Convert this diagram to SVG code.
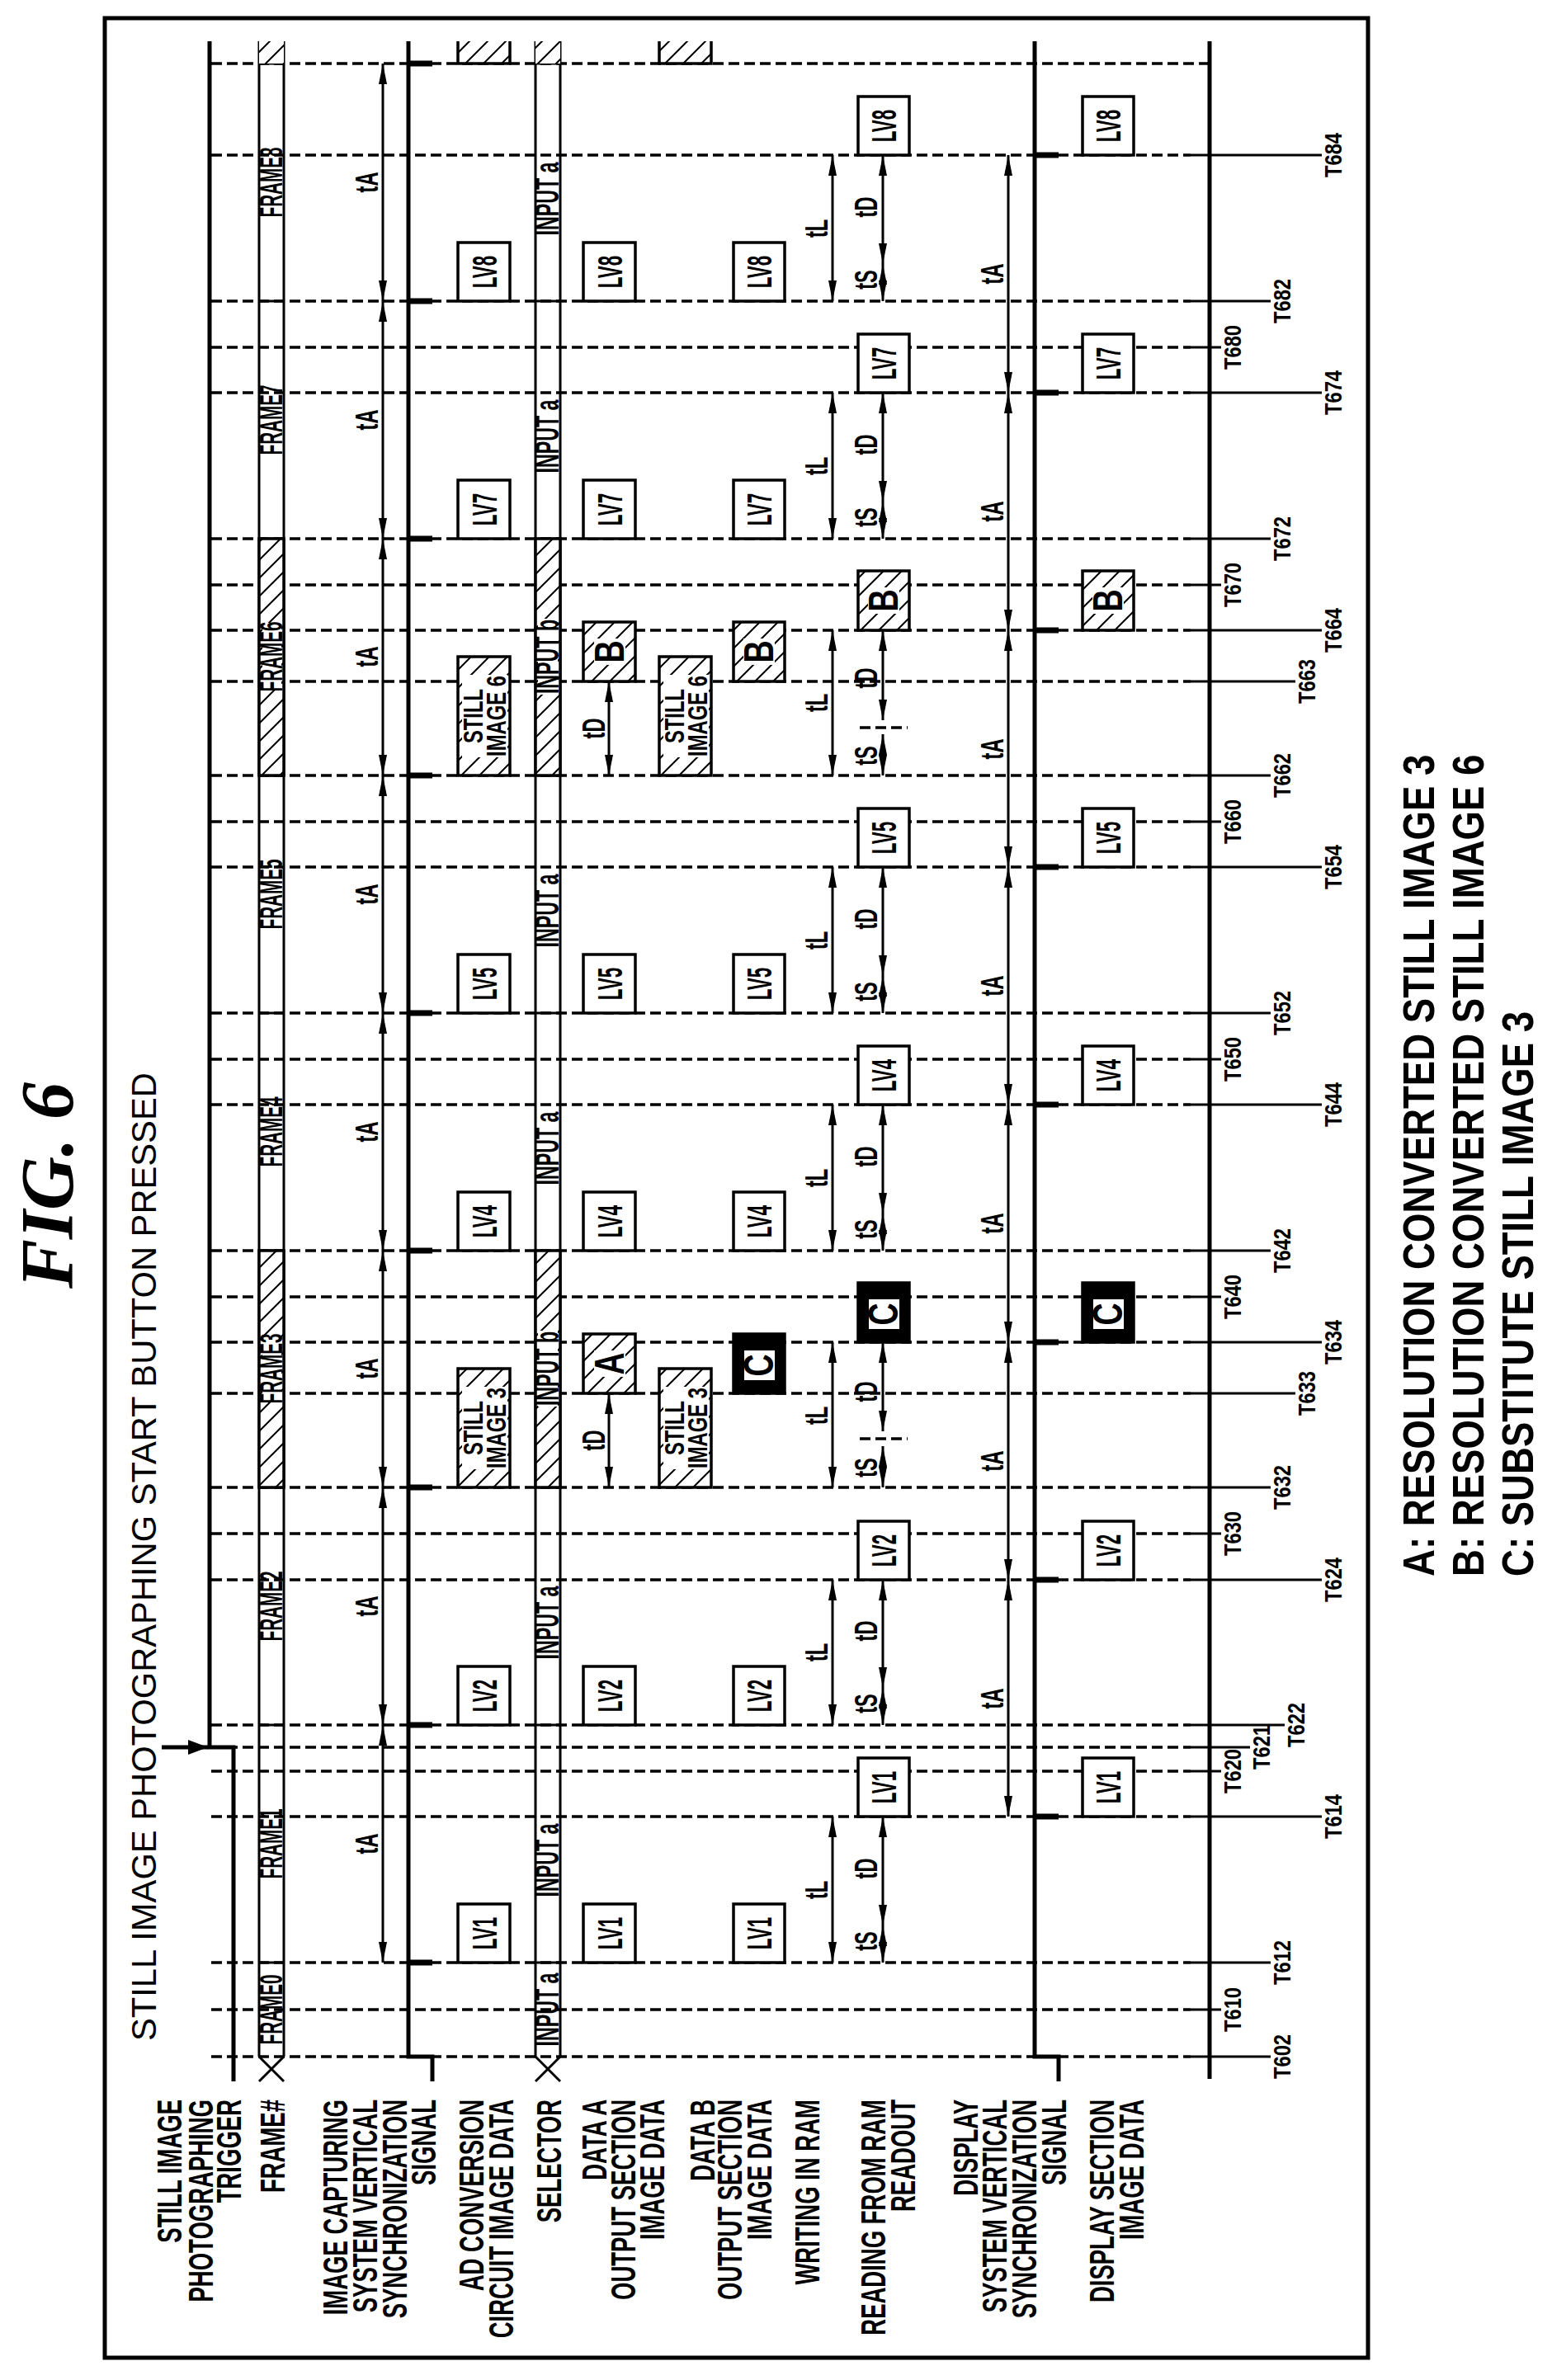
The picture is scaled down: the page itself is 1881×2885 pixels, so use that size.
<svg xmlns="http://www.w3.org/2000/svg" width="1881" height="2885" viewBox="0 0 1881 2885">
<style>
text{font-family:"Liberation Sans",Arial,sans-serif;fill:#000}
.lb{font-size:43px;font-weight:bold;text-anchor:end}
.fr{font-size:39px;font-weight:bold;text-anchor:middle}
.ip{font-size:40px;font-weight:bold;text-anchor:middle}
.tm{font-size:38px;font-weight:bold;text-anchor:middle}
.lv{font-size:43px;font-weight:bold;text-anchor:middle}
.st{font-size:34px;font-weight:bold;text-anchor:middle}
.big{font-size:50px;font-weight:bold;text-anchor:middle}
.tl{font-size:29px;font-weight:bold;text-anchor:middle}
.lg{font-size:53px;font-weight:bold;text-anchor:start}
.thick{stroke:#000;stroke-width:5;fill:none}
.thin{stroke:#000;stroke-width:3;fill:none}
.dash{stroke:#000;stroke-width:3.5;stroke-dasharray:13 6;fill:none}
.pulse{stroke:#000;stroke-width:7;fill:none}
.arr{stroke:#000;stroke-width:3;fill:none;marker-start:url(#ah);marker-end:url(#ah)}
.box{fill:#fff;stroke:#000;stroke-width:3.5}
.hbox{fill:url(#hatch);stroke:#000;stroke-width:3.5}
.blk{fill:#000;stroke:#000;stroke-width:3.5}
</style>
<defs>
<marker id="ah" markerUnits="userSpaceOnUse" viewBox="0 0 25 10" refX="25" refY="5" markerWidth="25" markerHeight="10" orient="auto-start-reverse"><path d="M0,0 L25,5 L0,10 z" fill="#000"/></marker>
<marker id="ah2" markerUnits="userSpaceOnUse" viewBox="0 0 24 18" refX="24" refY="9" markerWidth="24" markerHeight="18" orient="auto"><path d="M0,0 L24,9 L0,18 z" fill="#000"/></marker>
<pattern id="hatch" patternUnits="userSpaceOnUse" width="22" height="22"><rect width="22" height="22" fill="#fff"/><path d="M-5,-5 L27,27 M-5,17 L5,27 M17,-5 L27,5" stroke="#000" stroke-width="2"/></pattern>
</defs>
<rect id="border" x="127" y="22" width="1531" height="2836" fill="none" stroke="#000" stroke-width="5"/>
<g transform="matrix(0 -1 1 0 0 2885)">
<text id="title" x="1448" y="88" style="font-family:'Liberation Serif','Times New Roman',serif;font-size:90px;font-weight:bold;font-style:italic;text-anchor:middle">FIG. 6</text>
<text id="trig-title" transform="translate(411 189) scale(0.97 1)" style="font-size:43px">STILL IMAGE PHOTOGRAPHING START BUTTON PRESSED</text>
<g id="row-labels">
<text class="lb" transform="translate(340 220) scale(0.64 1)">STILL IMAGE</text>
<text class="lb" transform="translate(340 258) scale(0.64 1)">PHOTOGRAPHING</text>
<text class="lb" transform="translate(340 292) scale(0.64 1)">TRIGGER</text>
<text class="lb" transform="translate(340 345) scale(0.64 1)">FRAME#</text>
<text class="lb" transform="translate(340 421) scale(0.64 1)">IMAGE CAPTURING</text>
<text class="lb" transform="translate(340 457) scale(0.64 1)">SYSTEM VERTICAL</text>
<text class="lb" transform="translate(340 493) scale(0.64 1)">SYNCHRONIZATION</text>
<text class="lb" transform="translate(340 528) scale(0.64 1)">SIGNAL</text>
<text class="lb" transform="translate(340 586) scale(0.64 1)">AD CONVERSION</text>
<text class="lb" transform="translate(340 622) scale(0.64 1)">CIRCUIT IMAGE DATA</text>
<text class="lb" transform="translate(340 680) scale(0.64 1)">SELECTOR</text>
<text class="lb" transform="translate(340 735) scale(0.64 1)">DATA A</text>
<text class="lb" transform="translate(340 770) scale(0.64 1)">OUTPUT SECTION</text>
<text class="lb" transform="translate(340 805) scale(0.64 1)">IMAGE DATA</text>
<text class="lb" transform="translate(340 866) scale(0.64 1)">DATA B</text>
<text class="lb" transform="translate(340 899) scale(0.64 1)">OUTPUT SECTION</text>
<text class="lb" transform="translate(340 935) scale(0.64 1)">IMAGE DATA</text>
<text class="lb" transform="translate(340 993) scale(0.64 1)">WRITING IN RAM</text>
<text class="lb" transform="translate(340 1073) scale(0.64 1)">READING FROM RAM</text>
<text class="lb" transform="translate(340 1109) scale(0.64 1)">READOUT</text>
<text class="lb" transform="translate(340 1185) scale(0.64 1)">DISPLAY</text>
<text class="lb" transform="translate(340 1220) scale(0.64 1)">SYSTEM VERTICAL</text>
<text class="lb" transform="translate(340 1256) scale(0.64 1)">SYNCHRONIZATION</text>
<text class="lb" transform="translate(340 1292) scale(0.64 1)">SIGNAL</text>
<text class="lb" transform="translate(340 1350) scale(0.64 1)">DISPLAY SECTION</text>
<text class="lb" transform="translate(340 1386) scale(0.64 1)">IMAGE DATA</text>
</g>
<g id="connectors">
<path class="dash" d="M392 256V1443M449 256V1443M506 256V1443M683 256V1443M738 256V1443M767 256V1443M794 256V1443M970 256V1443M1026 256V1443M1082 256V1443M1196 256V1443M1258 256V1443M1313 256V1443M1369 256V1443M1546 256V1443M1601 256V1443M1657 256V1443M1834 256V1443M1889 256V1443M1945 256V1443M2059 256V1443M2121 256V1443M2176 256V1443M2232 256V1443M2409 256V1443M2464 256V1443M2520 256V1443M2697 256V1443M2808 256V1466"/>
<path class="thin" d="M392 1443V1540M449 1443V1480M506 1443V1540M683 1443V1602M738 1443V1480M767 1443V1515M794 1443V1557M970 1443V1602M1026 1443V1480M1082 1443V1540M1196 1443V1570M1258 1443V1602M1313 1443V1480M1369 1443V1540M1546 1443V1602M1601 1443V1480M1657 1443V1540M1834 1443V1602M1889 1443V1480M1945 1443V1540M2059 1443V1570M2121 1443V1602M2176 1443V1480M2232 1443V1540M2409 1443V1602M2464 1443V1480M2520 1443V1540M2697 1443V1602"/>
<path class="thick" d="M362 283H767V254H2835"/>
<path d="M767 196V252" stroke="#000" stroke-width="5" marker-end="url(#ah2)"/>
<path class="thin" d="M392 314H2835M392 344H2835M362 314L392 344M362 344L392 314"/>
<path class="thin" d="M506 314V344M794 314V344M1082 314V344M1369 314V344M1657 314V344M1945 314V344M2232 314V344M2520 314V344M2808 314V344"/>
<path class="thin" d="M392 649H2835M392 679H2835M362 649L392 679M362 679L392 649"/>
<path class="thin" d="M506 649V679M794 649V679M1082 649V679M1369 649V679M1657 649V679M1945 649V679M2232 649V679M2520 649V679M2808 649V679"/>
<path class="thick" d="M362 524H392V495H2835"/>
<path class="pulse" d="M506 495V524M794 495V524M1082 495V524M1369 495V524M1657 495V524M1945 495V524M2232 495V524M2520 495V524M2808 495V524"/>
<path class="thick" d="M362 1283H392V1254H2835"/>
<path class="pulse" d="M683 1254V1283M970 1254V1283M1258 1254V1283M1546 1254V1283M1834 1254V1283M2121 1254V1283M2409 1254V1283M2697 1254V1283"/>
<path class="thick" d="M365 1466H2835"/>
<path class="arr" d="M506 464H794"/><path class="arr" d="M794 464H1082"/><path class="arr" d="M1082 464H1369"/><path class="arr" d="M1369 464H1657"/><path class="arr" d="M1657 464H1945"/><path class="arr" d="M1945 464H2232"/><path class="arr" d="M2232 464H2520"/><path class="arr" d="M2520 464H2808"/>
<path class="arr" d="M683 1222H970"/><path class="arr" d="M970 1222H1258"/><path class="arr" d="M1258 1222H1546"/><path class="arr" d="M1546 1222H1834"/><path class="arr" d="M1834 1222H2121"/><path class="arr" d="M2121 1222H2409"/><path class="arr" d="M2409 1222H2697"/>
<path class="arr" d="M506 1009H683"/><path class="arr" d="M794 1009H970"/><path class="arr" d="M1082 1009H1258"/><path class="arr" d="M1369 1009H1546"/><path class="arr" d="M1657 1009H1834"/><path class="arr" d="M1945 1009H2121"/><path class="arr" d="M2232 1009H2409"/><path class="arr" d="M2520 1009H2697"/>
<path class="arr" d="M506 1070H551"/><path class="arr" d="M551 1070H683"/>
<path class="arr" d="M794 1070H839"/><path class="arr" d="M839 1070H970"/>
<path class="arr" d="M1082 1070H1132"/><path class="arr" d="M1150 1070H1258"/>
<path class="arr" d="M1369 1070H1414"/><path class="arr" d="M1414 1070H1546"/>
<path class="arr" d="M1657 1070H1702"/><path class="arr" d="M1702 1070H1834"/>
<path class="arr" d="M1945 1070H1995"/><path class="arr" d="M2012 1070H2121"/>
<path class="arr" d="M2232 1070H2277"/><path class="arr" d="M2277 1070H2409"/>
<path class="arr" d="M2520 1070H2565"/><path class="arr" d="M2565 1070H2697"/>
<path class="dash" d="M1141 1042V1100M2003 1042V1100"/>
<path class="arr" d="M1082 738H1196"/><path class="arr" d="M1945 738H2059"/>
</g>
<g id="hatches">
<rect x="1082" y="314" width="287" height="30" class="hbox"/>
<rect x="1945" y="314" width="287" height="30" class="hbox"/>
<rect x="1082" y="649" width="287" height="30" class="hbox"/>
<rect x="1945" y="649" width="287" height="30" class="hbox"/>
<rect x="2808" y="314" width="27" height="30" fill="url(#hatch)" stroke="none"/>
<rect x="2808" y="649" width="27" height="30" fill="url(#hatch)" stroke="none"/>
<path d="M2835 555H2808V618H2835M2835 799H2808V862H2835" class="hbox"/>
</g>
<g id="frame-labels">
<rect x="1185" y="318" width="82" height="23" fill="#fff"/><rect x="2048" y="318" width="82" height="23" fill="#fff"/>
<rect x="1180" y="652" width="92" height="24" fill="#fff"/><rect x="2043" y="652" width="92" height="24" fill="#fff"/>
<text class="fr" transform="translate(449 342) scale(0.53 1)">FRAME0</text>
<text class="fr" transform="translate(650 342) scale(0.53 1)">FRAME1</text>
<text class="fr" transform="translate(938 342) scale(0.53 1)">FRAME2</text>
<text class="fr" transform="translate(1226 342) scale(0.53 1)">FRAME3</text>
<text class="fr" transform="translate(1513 342) scale(0.53 1)">FRAME4</text>
<text class="fr" transform="translate(1801 342) scale(0.53 1)">FRAME5</text>
<text class="fr" transform="translate(2089 342) scale(0.53 1)">FRAME6</text>
<text class="fr" transform="translate(2376 342) scale(0.53 1)">FRAME7</text>
<text class="fr" transform="translate(2664 342) scale(0.53 1)">FRAME8</text>
<text class="ip" transform="translate(449 677) scale(0.58 1)">INPUT a</text>
<text class="ip" transform="translate(630 677) scale(0.58 1)">INPUT a</text>
<text class="ip" transform="translate(918 677) scale(0.58 1)">INPUT a</text>
<text class="ip" transform="translate(1226 677) scale(0.58 1)">INPUT b</text>
<text class="ip" transform="translate(1493 677) scale(0.58 1)">INPUT a</text>
<text class="ip" transform="translate(1781 677) scale(0.58 1)">INPUT a</text>
<text class="ip" transform="translate(2089 677) scale(0.58 1)">INPUT b</text>
<text class="ip" transform="translate(2356 677) scale(0.58 1)">INPUT a</text>
<text class="ip" transform="translate(2644 677) scale(0.58 1)">INPUT a</text>
</g>
<g id="timing-labels">
<text class="tm" transform="translate(650 458) scale(0.62 1)">tA</text>
<text class="tm" transform="translate(938 458) scale(0.62 1)">tA</text>
<text class="tm" transform="translate(1226 458) scale(0.62 1)">tA</text>
<text class="tm" transform="translate(1513 458) scale(0.62 1)">tA</text>
<text class="tm" transform="translate(1801 458) scale(0.62 1)">tA</text>
<text class="tm" transform="translate(2089 458) scale(0.62 1)">tA</text>
<text class="tm" transform="translate(2376 458) scale(0.62 1)">tA</text>
<text class="tm" transform="translate(2664 458) scale(0.62 1)">tA</text>
<text class="tm" transform="translate(826 1216) scale(0.62 1)">tA</text>
<text class="tm" transform="translate(1114 1216) scale(0.62 1)">tA</text>
<text class="tm" transform="translate(1402 1216) scale(0.62 1)">tA</text>
<text class="tm" transform="translate(1690 1216) scale(0.62 1)">tA</text>
<text class="tm" transform="translate(1977 1216) scale(0.62 1)">tA</text>
<text class="tm" transform="translate(2265 1216) scale(0.62 1)">tA</text>
<text class="tm" transform="translate(2553 1216) scale(0.62 1)">tA</text>
<text class="tm" transform="translate(594 1003) scale(0.62 1)">tL</text>
<text class="tm" transform="translate(882 1003) scale(0.62 1)">tL</text>
<text class="tm" transform="translate(1169 1003) scale(0.62 1)">tL</text>
<text class="tm" transform="translate(1457 1003) scale(0.62 1)">tL</text>
<text class="tm" transform="translate(1745 1003) scale(0.62 1)">tL</text>
<text class="tm" transform="translate(2033 1003) scale(0.62 1)">tL</text>
<text class="tm" transform="translate(2320 1003) scale(0.62 1)">tL</text>
<text class="tm" transform="translate(2608 1003) scale(0.62 1)">tL</text>
<text class="tm" transform="translate(532 1063) scale(0.62 1)">tS</text>
<text class="tm" transform="translate(620 1063) scale(0.62 1)">tD</text>
<text class="tm" transform="translate(820 1063) scale(0.62 1)">tS</text>
<text class="tm" transform="translate(908 1063) scale(0.62 1)">tD</text>
<text class="tm" transform="translate(1106 1063) scale(0.62 1)">tS</text>
<text class="tm" transform="translate(1198 1063) scale(0.62 1)">tD</text>
<text class="tm" transform="translate(1395 1063) scale(0.62 1)">tS</text>
<text class="tm" transform="translate(1483 1063) scale(0.62 1)">tD</text>
<text class="tm" transform="translate(1683 1063) scale(0.62 1)">tS</text>
<text class="tm" transform="translate(1771 1063) scale(0.62 1)">tD</text>
<text class="tm" transform="translate(1969 1063) scale(0.62 1)">tS</text>
<text class="tm" transform="translate(2063 1063) scale(0.62 1)">tD</text>
<text class="tm" transform="translate(2258 1063) scale(0.62 1)">tS</text>
<text class="tm" transform="translate(2346 1063) scale(0.62 1)">tD</text>
<text class="tm" transform="translate(2546 1063) scale(0.62 1)">tS</text>
<text class="tm" transform="translate(2634 1063) scale(0.62 1)">tD</text>
<text class="tm" transform="translate(1139 733) scale(0.62 1)">tD</text>
<text class="tm" transform="translate(2002 733) scale(0.62 1)">tD</text>
</g>
<g id="time-labels">
<text class="tl" transform="translate(392 1564) scale(0.82 1)">T602</text>
<text class="tl" transform="translate(449 1504) scale(0.82 1)">T610</text>
<text class="tl" transform="translate(506 1564) scale(0.82 1)">T612</text>
<text class="tl" transform="translate(683 1626) scale(0.82 1)">T614</text>
<text class="tl" transform="translate(738 1504) scale(0.82 1)">T620</text>
<text class="tl" transform="translate(767 1539) scale(0.82 1)">T621</text>
<text class="tl" transform="translate(794 1581) scale(0.82 1)">T622</text>
<text class="tl" transform="translate(970 1626) scale(0.82 1)">T624</text>
<text class="tl" transform="translate(1026 1504) scale(0.82 1)">T630</text>
<text class="tl" transform="translate(1082 1564) scale(0.82 1)">T632</text>
<text class="tl" transform="translate(1196 1594) scale(0.82 1)">T633</text>
<text class="tl" transform="translate(1258 1626) scale(0.82 1)">T634</text>
<text class="tl" transform="translate(1313 1504) scale(0.82 1)">T640</text>
<text class="tl" transform="translate(1369 1564) scale(0.82 1)">T642</text>
<text class="tl" transform="translate(1546 1626) scale(0.82 1)">T644</text>
<text class="tl" transform="translate(1601 1504) scale(0.82 1)">T650</text>
<text class="tl" transform="translate(1657 1564) scale(0.82 1)">T652</text>
<text class="tl" transform="translate(1834 1626) scale(0.82 1)">T654</text>
<text class="tl" transform="translate(1889 1504) scale(0.82 1)">T660</text>
<text class="tl" transform="translate(1945 1564) scale(0.82 1)">T662</text>
<text class="tl" transform="translate(2059 1594) scale(0.82 1)">T663</text>
<text class="tl" transform="translate(2121 1626) scale(0.82 1)">T664</text>
<text class="tl" transform="translate(2176 1504) scale(0.82 1)">T670</text>
<text class="tl" transform="translate(2232 1564) scale(0.82 1)">T672</text>
<text class="tl" transform="translate(2409 1626) scale(0.82 1)">T674</text>
<text class="tl" transform="translate(2464 1504) scale(0.82 1)">T680</text>
<text class="tl" transform="translate(2520 1564) scale(0.82 1)">T682</text>
<text class="tl" transform="translate(2697 1626) scale(0.82 1)">T684</text>
</g>
<g id="lv-boxes">
<rect class="box" x="506" y="555" width="71" height="63"/><text class="lv" transform="translate(541.5 602) scale(0.52 1)">LV1</text>
<rect class="box" x="506" y="707" width="71" height="63"/><text class="lv" transform="translate(541.5 754) scale(0.52 1)">LV1</text>
<rect class="box" x="506" y="889" width="71" height="62"/><text class="lv" transform="translate(541.5 935) scale(0.52 1)">LV1</text>
<rect class="box" x="794" y="555" width="71" height="63"/><text class="lv" transform="translate(829.5 602) scale(0.52 1)">LV2</text>
<rect class="box" x="794" y="707" width="71" height="63"/><text class="lv" transform="translate(829.5 754) scale(0.52 1)">LV2</text>
<rect class="box" x="794" y="889" width="71" height="62"/><text class="lv" transform="translate(829.5 935) scale(0.52 1)">LV2</text>
<rect class="box" x="1369" y="555" width="71" height="63"/><text class="lv" transform="translate(1404.5 602) scale(0.52 1)">LV4</text>
<rect class="box" x="1369" y="707" width="71" height="63"/><text class="lv" transform="translate(1404.5 754) scale(0.52 1)">LV4</text>
<rect class="box" x="1369" y="889" width="71" height="62"/><text class="lv" transform="translate(1404.5 935) scale(0.52 1)">LV4</text>
<rect class="box" x="1657" y="555" width="71" height="63"/><text class="lv" transform="translate(1692.5 602) scale(0.52 1)">LV5</text>
<rect class="box" x="1657" y="707" width="71" height="63"/><text class="lv" transform="translate(1692.5 754) scale(0.52 1)">LV5</text>
<rect class="box" x="1657" y="889" width="71" height="62"/><text class="lv" transform="translate(1692.5 935) scale(0.52 1)">LV5</text>
<rect class="box" x="2232" y="555" width="71" height="63"/><text class="lv" transform="translate(2267.5 602) scale(0.52 1)">LV7</text>
<rect class="box" x="2232" y="707" width="71" height="63"/><text class="lv" transform="translate(2267.5 754) scale(0.52 1)">LV7</text>
<rect class="box" x="2232" y="889" width="71" height="62"/><text class="lv" transform="translate(2267.5 935) scale(0.52 1)">LV7</text>
<rect class="box" x="2520" y="555" width="71" height="63"/><text class="lv" transform="translate(2555.5 602) scale(0.52 1)">LV8</text>
<rect class="box" x="2520" y="707" width="71" height="63"/><text class="lv" transform="translate(2555.5 754) scale(0.52 1)">LV8</text>
<rect class="box" x="2520" y="889" width="71" height="62"/><text class="lv" transform="translate(2555.5 935) scale(0.52 1)">LV8</text>
<rect class="box" x="683" y="1040" width="71" height="62"/><text class="lv" transform="translate(718.5 1086) scale(0.52 1)">LV1</text>
<rect class="box" x="683" y="1312" width="71" height="62"/><text class="lv" transform="translate(718.5 1358) scale(0.52 1)">LV1</text>
<rect class="box" x="970" y="1040" width="71" height="62"/><text class="lv" transform="translate(1005.5 1086) scale(0.52 1)">LV2</text>
<rect class="box" x="970" y="1312" width="71" height="62"/><text class="lv" transform="translate(1005.5 1358) scale(0.52 1)">LV2</text>
<rect class="box" x="1546" y="1040" width="71" height="62"/><text class="lv" transform="translate(1581.5 1086) scale(0.52 1)">LV4</text>
<rect class="box" x="1546" y="1312" width="71" height="62"/><text class="lv" transform="translate(1581.5 1358) scale(0.52 1)">LV4</text>
<rect class="box" x="1834" y="1040" width="71" height="62"/><text class="lv" transform="translate(1869.5 1086) scale(0.52 1)">LV5</text>
<rect class="box" x="1834" y="1312" width="71" height="62"/><text class="lv" transform="translate(1869.5 1358) scale(0.52 1)">LV5</text>
<rect class="box" x="2409" y="1040" width="71" height="62"/><text class="lv" transform="translate(2444.5 1086) scale(0.52 1)">LV7</text>
<rect class="box" x="2409" y="1312" width="71" height="62"/><text class="lv" transform="translate(2444.5 1358) scale(0.52 1)">LV7</text>
<rect class="box" x="2697" y="1040" width="71" height="62"/><text class="lv" transform="translate(2732.5 1086) scale(0.52 1)">LV8</text>
<rect class="box" x="2697" y="1312" width="71" height="62"/><text class="lv" transform="translate(2732.5 1358) scale(0.52 1)">LV8</text>
</g>
<g id="still-boxes">
<rect class="hbox" x="1082" y="555" width="144" height="63"/>
<rect x="1104" y="560" width="100" height="55" fill="#fff"/>
<text class="st" transform="translate(1154 585) scale(0.7 1)">STILL</text><text class="st" transform="translate(1154 613) scale(0.7 1)">IMAGE 3</text>
<rect class="hbox" x="1082" y="799" width="144" height="63"/>
<rect x="1104" y="804" width="100" height="55" fill="#fff"/>
<text class="st" transform="translate(1154 829) scale(0.7 1)">STILL</text><text class="st" transform="translate(1154 857) scale(0.7 1)">IMAGE 3</text>
<rect class="hbox" x="1945" y="555" width="144" height="63"/>
<rect x="1967" y="560" width="100" height="55" fill="#fff"/>
<text class="st" transform="translate(2017 585) scale(0.7 1)">STILL</text><text class="st" transform="translate(2017 613) scale(0.7 1)">IMAGE 6</text>
<rect class="hbox" x="1945" y="799" width="144" height="63"/>
<rect x="1967" y="804" width="100" height="55" fill="#fff"/>
<text class="st" transform="translate(2017 829) scale(0.7 1)">STILL</text><text class="st" transform="translate(2017 857) scale(0.7 1)">IMAGE 6</text>
</g>
<g id="abc-boxes">
<rect class="hbox" x="1196" y="707" width="72" height="63"/><rect x="1216" y="720" width="32" height="38" fill="#fff"/><text class="big" transform="translate(1232 756) scale(0.75 1)">A</text>
<rect class="hbox" x="2059" y="707" width="72" height="63"/><rect x="2079" y="720" width="32" height="38" fill="#fff"/><text class="big" transform="translate(2095 756) scale(0.75 1)">B</text>
<rect class="hbox" x="2059" y="889" width="72" height="62"/><rect x="2079" y="901" width="32" height="38" fill="#fff"/><text class="big" transform="translate(2095 937) scale(0.75 1)">B</text>
<rect class="hbox" x="2121" y="1040" width="72" height="62"/><rect x="2141" y="1052" width="32" height="38" fill="#fff"/><text class="big" transform="translate(2157 1088) scale(0.75 1)">B</text>
<rect class="hbox" x="2121" y="1312" width="72" height="62"/><rect x="2141" y="1324" width="32" height="38" fill="#fff"/><text class="big" transform="translate(2157 1360) scale(0.75 1)">B</text>
<rect class="blk" x="1196" y="889" width="72" height="62"/><rect x="1212" y="902" width="36" height="37" fill="#fff"/><text class="big" transform="translate(1230 937) scale(0.75 1)">C</text>
<rect class="blk" x="1258" y="1040" width="72" height="62"/><rect x="1274" y="1053" width="36" height="37" fill="#fff"/><text class="big" transform="translate(1292 1088) scale(0.75 1)">C</text>
<rect class="blk" x="1258" y="1312" width="72" height="62"/><rect x="1274" y="1325" width="36" height="37" fill="#fff"/><text class="big" transform="translate(1292 1360) scale(0.75 1)">C</text>
</g>
<g id="legend">
<text class="lg" transform="translate(974 1738) scale(0.86 1)">A: RESOLUTION CONVERTED  STILL IMAGE 3</text>
<text class="lg" transform="translate(974 1798) scale(0.86 1)">B: RESOLUTION CONVERTED  STILL IMAGE 6</text>
<text class="lg" transform="translate(974 1858) scale(0.86 1)">C: SUBSTITUTE STILL IMAGE 3</text>
</g>
</g>
</svg>
